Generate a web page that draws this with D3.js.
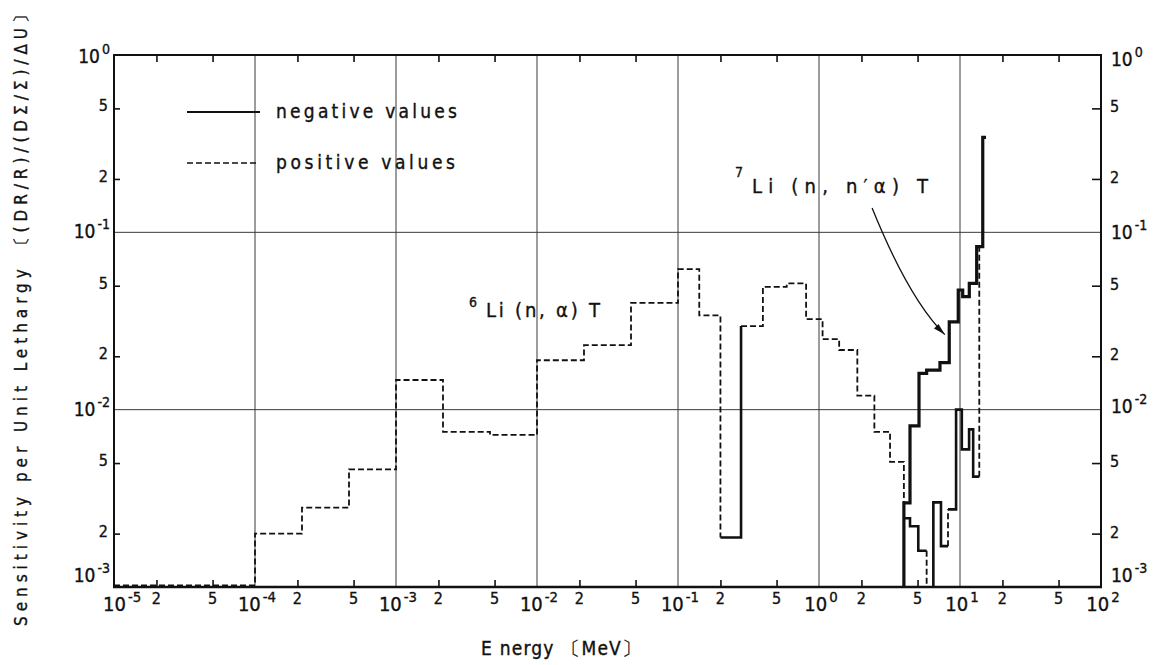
<!DOCTYPE html>
<html>
<head>
<meta charset="utf-8">
<script src="https://cdn.jsdelivr.net/npm/d3@7"></script>
<style>
  html, body { margin: 0; padding: 0; background: #fff; }
  svg { display: block; }
  text { font-family: "DejaVu Sans Condensed", "DejaVu Sans", sans-serif; font-stretch: condensed; fill: #111; stroke: #111; stroke-width: 0.35px; }
</style>
</head>
<body>
<svg id="chart" width="1164" height="665"></svg>
<script>
// ---- 6Li(n,alpha)T sensitivity: group edges (MeV), |value| per group, sign of each step ----
const li6Edges = [1e-5, 1e-4, 2.154e-4, 4.642e-4, 1e-3, 2.154e-3, 4.642e-3, 1e-2, 2.154e-2, 4.642e-2,
                  0.1, 0.1415, 0.2, 0.28, 0.4, 0.59, 0.81, 1.06, 1.39, 1.87, 2.47, 3.19, 4.0, 4.42,
                  5.06, 5.8, 6.47, 7.33, 8.22, 9.38, 10.3, 11.6, 12.4, 13.7, 14.5];
const li6Values = [1.02e-3, 2.0e-3, 2.8e-3, 4.6e-3, 1.47e-2, 7.5e-3, 7.2e-3, 1.9e-2, 2.31e-2, 4.0e-2,
                   6.2e-2, 3.4e-2, 1.9e-3, 2.96e-2, 4.93e-2, 5.15e-2, 3.24e-2, 2.5e-2, 2.17e-2, 1.2e-2,
                   7.5e-3, 5.08e-3, 2.44e-3, 2.2e-3, 1.6e-3, 1.0e-3, 3.0e-3, 1.7e-3, 2.74e-3, 1.0e-2,
                   5.97e-3, 7.74e-3, 4.19e-3, 8.3e-2];
// "p" = positive value (dashed), "n" = negative value (solid)
const li6Sign = ["p","p","p","p","p","p","p","p","p","p","p","p","n",
                 "p","p","p","p","p","p","p","p","p","n","n","n","p",
                 "n","n","n","n","n","n","n","p"];
const li6RiserSign = ["p","p","p","p","p","p","p","p","p","p","p","p","n",
                      "p","p","p","p","p","p","p","p","p","n","n","p","n",
                      "n","p","n","n","n","n","p"];

// ---- 7Li(n,n'alpha)T sensitivity (all negative) ----
const li7Edges = [4.0, 4.42, 5.12, 5.8, 7.21, 8.39, 9.72, 10.45, 11.64, 13.13, 14.5, 15.3];
const li7Values = [2.98e-3, 8.1e-3, 1.6e-2, 1.67e-2, 1.84e-2, 3.13e-2, 4.73e-2, 4.34e-2, 5.15e-2, 8.3e-2, 3.43e-1];

// ---- axis ticks ----
const xDecadeExps = [-5, -4, -3, -2, -1, 0, 1, 2];
const yDecadeExps = [-3, -2, -1, 0];
const minorMultipliers = [2, 5];
const xGridExps = [-4, -3, -2, -1, 0, 1];
const yGridExps = [-2, -1];

const svg = d3.select("#chart");
const W = 1164, H = 665;
const plot = { left: 114, right: 1101, top: 55, bottom: 587 };

svg.append("rect").attr("width", W).attr("height", H).attr("fill", "#fff");

const x = d3.scaleLog().domain([1e-5, 1e2]).range([plot.left, plot.right]);
const y = d3.scaleLog().domain([1e-3, 1]).range([plot.bottom, plot.top]);
const floorValue = 1e-3;

const xMinor = [];
xDecadeExps.slice(0, -1).forEach(e => minorMultipliers.forEach(m => xMinor.push(m * Math.pow(10, e))));
const yMinor = [];
yDecadeExps.slice(0, -1).forEach(e => minorMultipliers.forEach(m => yMinor.push(m * Math.pow(10, e))));
const mantissa = v => String(Math.round(v / Math.pow(10, Math.floor(Math.log10(v) + 1e-9))));

// ---- grid lines ----
const grid = svg.append("g").attr("stroke", "#3a3a3a").attr("stroke-width", 1);
grid.selectAll("line.vx").data(xGridExps).join("line")
  .attr("x1", e => x(Math.pow(10, e))).attr("x2", e => x(Math.pow(10, e)))
  .attr("y1", plot.top).attr("y2", plot.bottom);
grid.selectAll("line.hy").data(yGridExps).join("line")
  .attr("x1", plot.left).attr("x2", plot.right)
  .attr("y1", e => y(Math.pow(10, e))).attr("y2", e => y(Math.pow(10, e)));

// ---- inward minor ticks on all four sides via d3 axes ----
const tickStyle = g => { g.select(".domain").remove(); g.selectAll("line").attr("stroke", "#111").attr("stroke-width", 1.6); g.selectAll("text").remove(); };
svg.append("g").attr("transform", `translate(0,${plot.bottom})`)
  .call(d3.axisBottom(x).tickValues(xMinor).tickSize(-7).tickFormat("")).call(tickStyle);
svg.append("g").attr("transform", `translate(0,${plot.top})`)
  .call(d3.axisTop(x).tickValues(xMinor).tickSize(-7).tickFormat("")).call(tickStyle);
svg.append("g").attr("transform", `translate(${plot.left},0)`)
  .call(d3.axisLeft(y).tickValues(yMinor).tickSize(-6).tickFormat("")).call(tickStyle);
svg.append("g").attr("transform", `translate(${plot.right},0)`)
  .call(d3.axisRight(y).tickValues(yMinor).tickSize(-9).tickFormat("")).call(tickStyle);

// ---- step curves ----
function buildRuns(edges, values, binSign, riserSign, entrySign) {
  const segs = [];
  if (entrySign) segs.push({ s: entrySign, pts: [[edges[0], floorValue], [edges[0], values[0]]] });
  values.forEach((v, i) => {
    segs.push({ s: binSign[i], pts: [[edges[i], v], [edges[i + 1], v]] });
    if (i < values.length - 1)
      segs.push({ s: riserSign[i], pts: [[edges[i + 1], v], [edges[i + 1], values[i + 1]]] });
  });
  const runs = [];
  segs.forEach(sg => {
    const last = runs[runs.length - 1];
    if (last && last.s === sg.s) last.pts.push(sg.pts[1]);
    else runs.push({ s: sg.s, pts: [sg.pts[0], sg.pts[1]] });
  });
  return runs;
}
const line = d3.line().x(d => x(d[0])).y(d => y(Math.max(d[1], floorValue)));

const li6Runs = buildRuns(li6Edges, li6Values, li6Sign, li6RiserSign, null);
svg.append("g").selectAll("path").data(li6Runs).join("path")
  .attr("d", r => line(r.pts))
  .attr("fill", "none").attr("stroke", "#111")
  .attr("stroke-width", r => r.s === "n" ? 2.6 : 1.8)
  .attr("stroke-dasharray", r => r.s === "p" ? "6 3" : null)
  .attr("stroke-linejoin", "miter").attr("stroke-linecap", "butt");

const li7Runs = buildRuns(li7Edges, li7Values, li7Values.map(() => "n"), li7Values.map(() => "n"), "n");
svg.append("g").selectAll("path").data(li7Runs).join("path")
  .attr("d", r => line(r.pts))
  .attr("fill", "none").attr("stroke", "#111").attr("stroke-width", 3.2)
  .attr("stroke-linejoin", "miter");

// ---- frame ----
const frame = svg.append("g").attr("stroke", "#111").attr("fill", "none");
frame.append("line").attr("x1", plot.left - 1).attr("x2", plot.right + 1).attr("y1", plot.bottom).attr("y2", plot.bottom).attr("stroke-width", 2.6);
frame.append("line").attr("x1", plot.left - 1).attr("x2", plot.right + 1).attr("y1", plot.top).attr("y2", plot.top).attr("stroke-width", 2);
frame.append("line").attr("x1", plot.left).attr("x2", plot.left).attr("y1", plot.top).attr("y2", plot.bottom).attr("stroke-width", 2);
frame.append("line").attr("x1", plot.right).attr("x2", plot.right).attr("y1", plot.top).attr("y2", plot.bottom).attr("stroke-width", 2);

// ---- tick labels ----
function powerLabel(g, exp, px, py, anchor, size) {
  const t = g.append("text").attr("x", px).attr("y", py).attr("text-anchor", anchor).attr("font-size", size);
  t.append("tspan").text("10");
  t.append("tspan").attr("dy", -9).attr("dx", 2).attr("font-size", size * 0.74).text(exp < 0 ? "-" + (-exp) : String(exp));
  return t;
}
const labels = svg.append("g");
// bottom
xDecadeExps.forEach(e => {
  const px = x(Math.pow(10, e));
  if (e === -5) powerLabel(labels, e, px - 11, 611, "start", 20);
  else powerLabel(labels, e, px + 2, 611, "middle", 20);
});
xMinor.forEach(v => {
  labels.append("text").attr("x", x(v)).attr("y", 604).attr("text-anchor", "middle")
    .attr("font-size", 16).text(mantissa(v));
});
// left and right
const leftShift = { "0": 8, "-1": 6, "-2": 6, "-3": -5 };
const rightShift = { "0": 11, "-1": 7, "-2": 3, "-3": -5 };
yDecadeExps.forEach(e => {
  const py = y(Math.pow(10, e));
  powerLabel(labels, e, 110, py + leftShift[e], "end", 19);
  powerLabel(labels, e, 1111, py + rightShift[e], "start", 19);
});
yMinor.forEach(v => {
  const m = mantissa(v);
  labels.append("text").attr("x", 108).attr("y", y(v) + 3).attr("text-anchor", "end").attr("font-size", 16).text(m);
  labels.append("text").attr("x", 1110).attr("y", y(v) + 4).attr("text-anchor", "start").attr("font-size", 16).text(m);
});

// ---- axis titles ----
svg.append("text").attr("x", 481).attr("y", 655).attr("font-size", 19)
  .attr("textLength", 160).attr("lengthAdjust", "spacing").text("E nergy 〔MeV〕");
svg.append("text").attr("transform", "translate(27,626) rotate(-90)").attr("font-size", 17)
  .attr("textLength", 620).attr("lengthAdjust", "spacing")
  .text("Sensitivity per Unit Lethargy 〔(DR/R)/(DΣ/Σ)/ΔU〕");

// ---- legend ----
const legend = svg.append("g");
legend.append("line").attr("x1", 187).attr("x2", 260).attr("y1", 112).attr("y2", 112)
  .attr("stroke", "#111").attr("stroke-width", 2.2);
legend.append("text").attr("x", 276).attr("y", 118).attr("font-size", 19)
  .attr("textLength", 181).attr("lengthAdjust", "spacing").text("negative values");
legend.append("line").attr("x1", 187).attr("x2", 258).attr("y1", 163).attr("y2", 163)
  .attr("stroke", "#111").attr("stroke-width", 1.6).attr("stroke-dasharray", "6 3");
legend.append("text").attr("x", 276).attr("y", 169).attr("font-size", 19)
  .attr("textLength", 179).attr("lengthAdjust", "spacing").text("positive values");

// ---- reaction annotations ----
const ann = svg.append("g");
const halo = t => t.attr("stroke", "#fff").attr("stroke-width", 6).attr("paint-order", "stroke").attr("stroke-linejoin", "round");
const ink = t => t.append("tspan");
ann.append("text").attr("x", 469).attr("y", 307).attr("font-size", 14).text("6").call(halo);
ann.append("text").attr("x", 486).attr("y", 317).attr("font-size", 20)
  .attr("textLength", 114).attr("lengthAdjust", "spacing").text("Li (n, α) T").call(halo);
ann.append("text").attr("x", 735).attr("y", 177).attr("font-size", 14).text("7").call(halo);
ann.append("text").attr("x", 752).attr("y", 193).attr("font-size", 20)
  .attr("textLength", 176).attr("lengthAdjust", "spacing").text("Li (n, n′α) T").call(halo);

// curved pointer from the 7Li label down to its curve, anchored in (MeV, sensitivity) space
const arrowStart = [2.38, 0.137];
const arrowCtrl = [4.35, 0.042];
const arrowEnd = [7.8, 0.0265];
const p0 = [x(arrowStart[0]), y(arrowStart[1])];
const pc = [x(arrowCtrl[0]), y(arrowCtrl[1])];
const p1 = [x(arrowEnd[0]), y(arrowEnd[1])];
const pathArrow = d3.path();
pathArrow.moveTo(p0[0], p0[1]);
pathArrow.quadraticCurveTo(pc[0], pc[1], p1[0], p1[1]);
ann.append("path").attr("d", pathArrow.toString()).attr("fill", "none").attr("stroke", "#111").attr("stroke-width", 1.3);
// arrow head along the end tangent
const ang = Math.atan2(p1[1] - pc[1], p1[0] - pc[0]);
const hl = 12, hw = 3.2;
const base = [p1[0] - hl * Math.cos(ang), p1[1] - hl * Math.sin(ang)];
ann.append("path")
  .attr("d", `M${p1[0]},${p1[1]}L${base[0] + hw * Math.sin(ang)},${base[1] - hw * Math.cos(ang)}L${base[0] - hw * Math.sin(ang)},${base[1] + hw * Math.cos(ang)}Z`)
  .attr("fill", "#111");
</script>
</body>
</html>
